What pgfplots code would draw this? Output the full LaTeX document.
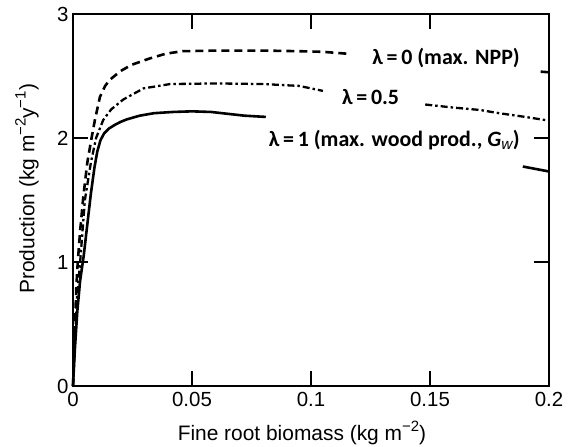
\documentclass[border=0pt]{standalone}
\usepackage{fontspec}
\setmainfont{Liberation Sans}
\newfontfamily\calib{Carlito}
\usepackage{pgfplots}
\pgfplotsset{compat=1.18}
\newcommand\sups[1]{\raisebox{0.42em}{\fontsize{15}{15}\selectfont #1}}
\begin{document}
\begin{tikzpicture}
\begin{axis}[
  scale only axis,
  width=476bp, height=372bp,
  xmin=0, xmax=0.2, ymin=0, ymax=3,
  xtick={0,0.05,0.1,0.15,0.2},
  xticklabels={0,0.05,0.1,0.15,0.2},
  ytick={0,1,2,3},
  tick align=inside,
  major tick length=15bp,
  axis line style={line width=1.3bp},
  every tick/.style={line width=1.4bp, black},
  /pgf/number format/assume math mode=true,
  tick label style={font=\fontsize{20.5}{22}\selectfont},
  xticklabel style={yshift=-3bp},
  yticklabel style={xshift=-1bp},
  label style={font=\fontsize{21}{23}\selectfont},
  xlabel={Fine root biomass (kg m\sups{−2})},
  ylabel={Production (kg m\sups{−2}y\sups{−1})},
  xlabel style={at={(axis description cs:0.481,-0.126)}, anchor=center},
  ylabel style={at={(axis description cs:-0.0966,0.53)}, anchor=center},
  clip=false,
]
\coordinate (sw) at (rel axis cs:0,0);
% lambda = 1 (solid)
\addplot[black, line width=2.6bp, line join=round] coordinates {
(0,0) (0.0008,0.3) (0.0018,0.6) (0.003,0.85) (0.0045,1.05) (0.006,1.3) (0.0075,1.55) (0.009,1.76) (0.0102,1.89) (0.0115,1.98) (0.013,2.035) (0.015,2.075) (0.0175,2.105) (0.02,2.13) (0.0226,2.15) (0.028,2.18) (0.034,2.2) (0.042,2.21) (0.05,2.215) (0.058,2.21) (0.065,2.195) (0.072,2.18) (0.081,2.17)};
\addplot[black, line width=2.6bp] coordinates {(0.189,1.77) (0.2,1.73)};
% lambda = 0 (dashed)
\addplot[black, line width=2.6bp, dash pattern=on 8bp off 5bp] coordinates {
(0,0) (0.0007,0.4) (0.0014,0.8) (0.002,1.0) (0.003,1.25) (0.0043,1.52) (0.006,1.8) (0.0078,2.0) (0.0092,2.145) (0.0113,2.33) (0.0135,2.42) (0.0155,2.47) (0.02,2.54) (0.0246,2.59) (0.032,2.64) (0.039,2.68) (0.046,2.70) (0.06,2.705) (0.08,2.705) (0.095,2.70) (0.105,2.695) (0.115,2.68)};
\addplot[black, line width=2.6bp] coordinates {(0.1965,2.535) (0.2,2.53)};
% lambda = 0.5 (dash-dot)
\addplot[black, line width=2.3bp, dash pattern=on 7bp off 3bp on 2.5bp off 3bp] coordinates {
(0,0) (0.0008,0.35) (0.0016,0.7) (0.003,1.0) (0.005,1.5) (0.0075,1.8) (0.0097,2.0) (0.0127,2.145) (0.016,2.23) (0.0211,2.31) (0.0296,2.40) (0.0408,2.435) (0.06,2.44) (0.08,2.435) (0.095,2.42) (0.105,2.38)};
\addplot[black, line width=2.3bp, dash pattern=on 7bp off 3bp on 2.5bp off 3bp] coordinates {
(0.148,2.27) (0.16,2.245) (0.171,2.226) (0.179,2.2) (0.19,2.17) (0.2,2.14)};
\node[anchor=east, font=\calib\bfseries\fontsize{22}{24}\selectfont, inner sep=0pt] at (axis cs:0.1878,2.645) {λ\,=\,0 (max. NPP)};
\node[anchor=west, font=\calib\bfseries\fontsize{22}{24}\selectfont, inner sep=0pt] at (axis cs:0.113,2.33) {λ\,=\,0.5};
\node[anchor=east, font=\calib\bfseries\fontsize{22}{24}\selectfont, inner sep=0pt] at (axis cs:0.1878,1.984) {λ\,=\,1 (max. wood prod., \textit{G$_{\mathit{w}}$})};
\end{axis}
\pgfresetboundingbox
\path (sw) ++(-73bp,-61bp) rectangle ++(568bp,447bp);
\end{tikzpicture}
\end{document}
